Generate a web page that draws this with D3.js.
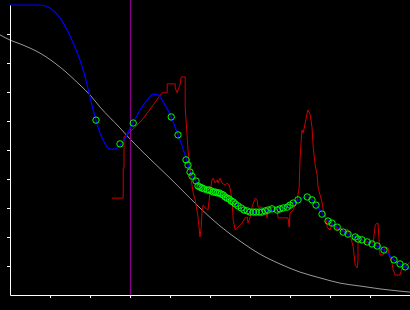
<!DOCTYPE html>
<html>
<head>
<meta charset="utf-8">
<script src="https://cdn.jsdelivr.net/npm/d3@7"></script>
<style>
  html, body { margin: 0; padding: 0; background: #000; }
  svg { display: block; }
</style>
</head>
<body>
<script>
// smooth reference curve (gray)
var grayX = [-0.25, 0, 0.25, 0.75, 1.25, 1.75, 2.0, 2.25, 2.75, 3.0, 3.5, 4.0, 4.5, 4.75, 5.25, 5.75, 6.25, 6.75, 7.25, 7.75, 8.25, 8.75, 9.25, 10];
var grayY = [8.97, 8.79, 8.66, 8.34, 7.86, 7.24, 6.90, 6.48, 5.76, 5.38, 4.69, 4.03, 3.34, 3.00, 2.38, 1.86, 1.41, 1.07, 0.79, 0.59, 0.41, 0.31, 0.21, 0.10];

// fitted curve (blue)
var blueX = [0, 0.75, 1.0, 1.25, 1.43, 1.58, 1.75, 1.88, 2.0, 2.08, 2.15, 2.25, 2.38, 2.5, 2.63, 2.75, 2.88, 3.0, 3.13, 3.25, 3.43, 3.58, 3.7, 3.83, 4.03, 4.2, 4.33, 4.43, 4.5, 4.65, 4.75, 4.88, 5.13, 5.38, 5.63, 5.88, 6.13, 6.38, 6.63, 6.88, 7.13, 7.3, 7.43, 7.55, 7.7, 7.88, 8.13, 8.38, 8.63, 8.88, 9.13, 9.38, 9.63, 9.88, 10.0];
var blueY = [10.0, 10.0, 9.90, 9.55, 9.14, 8.69, 8.10, 7.52, 6.83, 6.38, 6.03, 5.59, 5.21, 5.03, 5.03, 5.17, 5.41, 5.76, 6.07, 6.38, 6.72, 6.93, 6.90, 6.66, 6.14, 5.52, 5.03, 4.59, 4.24, 3.93, 3.72, 3.66, 3.55, 3.38, 3.14, 2.90, 2.86, 2.90, 2.93, 3.03, 3.21, 3.34, 3.38, 3.28, 3.03, 2.66, 2.38, 2.14, 2.00, 1.86, 1.72, 1.52, 1.17, 0.97, 0.90];

// measured signal (red)
var redX = [2.55, 2.83, 2.83, 2.85, 2.85, 2.93, 3.3, 3.8, 3.93, 3.93, 4.13, 4.13, 4.18, 4.2, 4.25, 4.28, 4.38, 4.38, 4.43, 4.45, 4.5, 4.53, 4.58, 4.63, 4.7, 4.75, 4.78, 4.8, 4.83, 4.88, 4.95, 5.0, 5.05, 5.08, 5.13, 5.18, 5.2, 5.25, 5.3, 5.38, 5.43, 5.48, 5.5, 5.55, 5.58, 5.63, 5.7, 5.8, 5.88, 5.93, 5.95, 6.0, 6.05, 6.13, 6.18, 6.2, 6.3, 6.38, 6.43, 6.45, 6.5, 6.63, 6.68, 6.7, 6.95, 6.98, 7.0, 7.08, 7.18, 7.23, 7.25, 7.28, 7.3, 7.33, 7.38, 7.43, 7.45, 7.5, 7.55, 7.58, 7.63, 7.68, 7.7, 7.75, 7.8, 7.83, 7.88, 7.93, 8.0, 8.05, 8.13, 8.2, 8.28, 8.35, 8.43, 8.5, 8.58, 8.63, 8.68, 8.7, 8.7, 8.78, 8.83, 8.88, 8.93, 9.08, 9.13, 9.18, 9.2, 9.23, 9.25, 9.33, 9.38, 9.45, 9.48, 9.55, 9.58, 9.63, 9.75, 9.8, 9.85, 9.93, 10.0];
var redY = [3.34, 3.34, 4.38, 4.38, 5.45, 5.52, 6.03, 6.97, 6.97, 7.28, 7.28, 7.14, 6.97, 7.07, 7.24, 7.52, 7.52, 6.48, 5.45, 5.00, 4.41, 3.97, 3.52, 3.28, 2.69, 2.00, 2.34, 2.86, 3.10, 3.00, 2.93, 3.52, 3.97, 4.03, 3.86, 3.97, 3.86, 4.03, 3.86, 3.79, 3.86, 3.79, 3.69, 3.28, 2.59, 2.24, 2.34, 2.48, 2.66, 2.69, 2.48, 2.66, 3.03, 3.34, 3.28, 3.03, 3.03, 2.93, 2.66, 3.00, 3.03, 3.00, 2.93, 2.66, 2.66, 2.34, 2.83, 2.93, 3.28, 3.72, 4.66, 5.34, 5.69, 5.59, 5.93, 6.28, 6.38, 6.24, 5.79, 5.10, 4.48, 4.14, 3.72, 3.45, 3.21, 2.93, 2.79, 2.34, 2.24, 2.45, 2.38, 2.21, 2.31, 2.17, 2.28, 2.10, 1.66, 1.03, 0.93, 1.21, 1.79, 1.90, 1.90, 1.79, 1.83, 1.79, 2.41, 2.48, 2.48, 1.79, 1.38, 1.38, 1.62, 1.62, 1.38, 1.10, 0.86, 0.69, 0.69, 0.93, 0.97, 1.03, 1.14];

// sample points (green)
var ptX = [2.15, 2.75, 3.08, 4.03, 4.2, 4.4, 4.45, 4.5, 4.55, 4.65, 4.7, 4.75, 4.8, 4.85, 4.93, 4.98, 5.03, 5.08, 5.13, 5.18, 5.23, 5.28, 5.33, 5.38, 5.43, 5.48, 5.53, 5.58, 5.63, 5.7, 5.78, 5.85, 5.93, 6.0, 6.08, 6.15, 6.23, 6.3, 6.38, 6.45, 6.55, 6.68, 6.75, 6.83, 6.93, 7.0, 7.08, 7.2, 7.43, 7.55, 7.65, 7.8, 7.95, 8.05, 8.18, 8.33, 8.45, 8.63, 8.7, 8.8, 8.93, 9.05, 9.18, 9.35, 9.6, 9.75, 9.88];
var ptY = [6.03, 5.21, 5.93, 6.14, 5.52, 4.66, 4.48, 4.24, 4.10, 3.93, 3.76, 3.72, 3.69, 3.66, 3.62, 3.62, 3.59, 3.55, 3.55, 3.52, 3.52, 3.48, 3.45, 3.38, 3.34, 3.31, 3.24, 3.21, 3.14, 3.07, 3.00, 2.93, 2.90, 2.86, 2.86, 2.86, 2.86, 2.86, 2.90, 2.93, 2.97, 2.93, 2.97, 3.00, 3.03, 3.10, 3.17, 3.28, 3.38, 3.28, 3.10, 2.79, 2.55, 2.48, 2.34, 2.17, 2.10, 2.00, 1.93, 1.90, 1.83, 1.76, 1.69, 1.55, 1.21, 1.07, 0.97];

var markerX = [3];
var xTicks = [1, 2, 3, 4, 5, 6, 7, 8, 9];
var yTicks = [1, 2, 3, 4, 5, 6, 7, 8, 9];

var width = 410, height = 310;

var x = d3.scaleLinear().domain([0, 10]).range([10, 410]);
var y = d3.scaleLinear().domain([0, 10]).range([295, 5]);

var svg = d3.select("body").append("svg")
    .attr("width", width)
    .attr("height", height)
    .style("background", "#000");

function zip(xs, ys) {
  return xs.map(function (v, i) { return [v, ys[i]]; });
}

var line = d3.line()
    .x(function (d) { return x(d[0]); })
    .y(function (d) { return y(d[1]); });

var smooth = d3.line()
    .curve(d3.curveMonotoneX)
    .x(function (d) { return x(d[0]); })
    .y(function (d) { return y(d[1]); });

svg.append("path")
    .datum(zip(grayX, grayY))
    .attr("d", smooth)
    .attr("fill", "none")
    .attr("stroke", "#999")
    .attr("stroke-width", 1);

svg.append("path")
    .datum(zip(redX, redY))
    .attr("d", line)
    .attr("fill", "none")
    .attr("stroke", "#cc0000")
    .attr("stroke-width", 1);

svg.selectAll(".marker")
    .data(markerX)
    .enter().append("line")
    .attr("class", "marker")
    .attr("x1", function (d) { return Math.round(x(d)) + 0.5; })
    .attr("x2", function (d) { return Math.round(x(d)) + 0.5; })
    .attr("y1", 0)
    .attr("y2", y(0))
    .attr("stroke", "#8a008a")
    .attr("stroke-width", 1.2);

svg.append("path")
    .datum(zip(blueX, blueY))
    .attr("d", smooth)
    .attr("fill", "none")
    .attr("stroke", "#0000ff")
    .attr("stroke-width", 1.2);

svg.selectAll(".pt")
    .data(zip(ptX, ptY))
    .enter().append("circle")
    .attr("class", "pt")
    .attr("cx", function (d) { return x(d[0]); })
    .attr("cy", function (d) { return y(d[1]); })
    .attr("r", 3.2)
    .attr("fill", "none")
    .attr("stroke", "#00ff00")
    .attr("stroke-width", 1);

var xAxis = svg.append("g")
    .attr("transform", "translate(0," + y(0) + ")")
    .call(d3.axisBottom(x).tickValues(xTicks).tickSize(3).tickSizeOuter(0).tickFormat(""));

var yAxis = svg.append("g")
    .attr("transform", "translate(" + x(0) + ",0)")
    .call(d3.axisLeft(y).tickValues(yTicks).tickSize(3).tickSizeOuter(0).tickFormat(""));

svg.selectAll(".domain, .tick line").attr("stroke", "#fff");
</script>
</body>
</html>
